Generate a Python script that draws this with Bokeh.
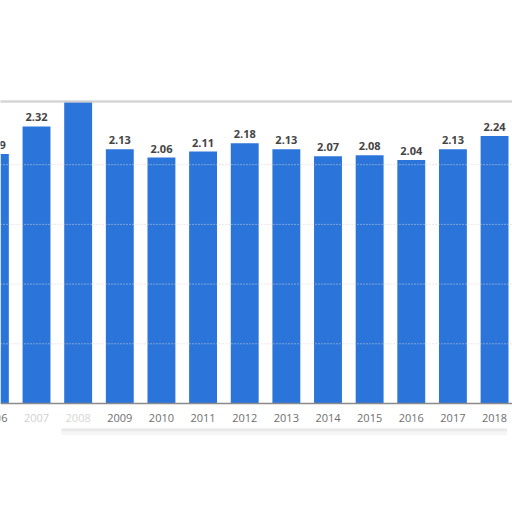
from bokeh.plotting import figure
from bokeh.models import ColumnDataSource, Span, Range1d
from bokeh.core.properties import value
from bokeh.embed import file_html
from bokeh.resources import INLINE

years = [2006, 2007, 2008, 2009, 2010, 2011, 2012, 2013, 2014, 2015, 2016, 2017, 2018]
values = [2.09, 2.32, 2.56, 2.13, 2.06, 2.11, 2.18, 2.13, 2.07, 2.08, 2.04, 2.13, 2.24]
value_labels = ["2.09", "2.32", "", "2.13", "2.06", "2.11", "2.18", "2.13", "2.07", "2.08", "2.04", "2.13", "2.24"]
year_labels = ["2006", "2007", "2008", "2009", "2010", "2011", "2012", "2013", "2014", "2015", "2016", "2017", "2018"]
year_label_colors = ["#6e6e6e", "#cfcfcf", "#d6d6d6", "#6e6e6e", "#6e6e6e", "#6e6e6e", "#6e6e6e",
                     "#6e6e6e", "#6e6e6e", "#6e6e6e", "#6e6e6e", "#6e6e6e", "#6e6e6e"]
grid_values = [0.5, 1.0, 1.5, 2.0]
paper_top = 2.53

BAR = "#2a74da"

src = ColumnDataSource(dict(x=years, top=values, vl=value_labels, yl=year_labels,
                            yc=year_label_colors, zero=[0] * len(years)))

p = figure(width=512, height=512, output_backend="svg", toolbar_location=None,
           x_range=Range1d(2006.135, 2018.431), y_range=Range1d(-0.913, 3.375),
           min_border=0, x_axis_type=None, y_axis_type=None)
p.outline_line_color = None
p.background_fill_color = "white"
p.border_fill_color = "white"
p.xgrid.visible = False
p.ygrid.visible = False

for g in grid_values:
    p.add_layout(Span(location=g, dimension="width", line_color="#d4d4d4",
                      line_width=1, line_dash="1 2"))

p.vbar(x="x", top="top", bottom=0, width=0.67, source=src, color=BAR, line_color=None)

p.text(x="x", y="top", text="vl", source=src, text_align="center", text_baseline="bottom",
       y_offset=-5, text_font=value("Open Sans"), text_font_style="bold",
       text_font_size="11px", text_color="#444444")

# baseline
p.add_layout(Span(location=0, dimension="width", line_color="#8a8a8a", line_width=1.5))

# year labels
p.text(x="x", y="zero", text="yl", source=src, text_align="center", text_baseline="middle",
       y_offset=15, text_font=value("Open Sans"), text_font_size="11px", text_color="yc")

# paper edge: cover above the torn top
x0, x1 = 2005.5, 2019.0
p.quad(left=[x0], right=[x1], bottom=[paper_top], top=[3.5], color="white", line_color=None)
p.line(x=[x0, x1], y=[paper_top, paper_top], line_color="#d0d0d0", line_width=2.5, line_alpha=0.9)

# torn-paper shadow below the labels
p.line(x=[2007.6, 2018.3], y=[-0.22, -0.22], line_color="#cccccc", line_width=3, line_alpha=0.35)
p.line(x=[2007.6, 2018.3], y=[-0.24, -0.24], line_color="#dddddd", line_width=6, line_alpha=0.25)

open("out.html", "w").write(file_html(p, INLINE))
